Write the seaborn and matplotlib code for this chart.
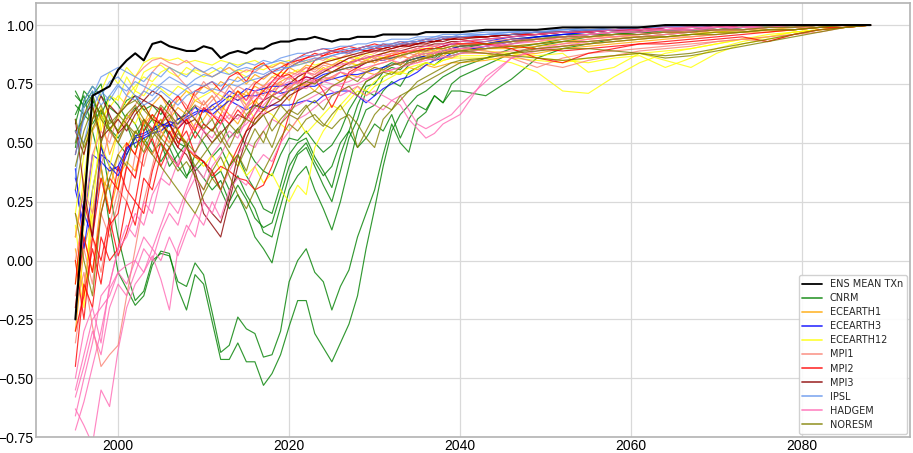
import matplotlib
matplotlib.use("Agg")
import numpy as np
import pandas as pd
import matplotlib.pyplot as plt
import seaborn as sns
from matplotlib.lines import Line2D

# ---------------- data ----------------
years = list(range(1995, 2041)) + list(range(2043, 2089, 3))

ENS_MEAN = [-0.25, 0.22, 0.70, 0.72, 0.74, 0.81, 0.85, 0.88, 0.85, 0.92, 0.93, 0.91, 0.90, 0.89, 0.89, 0.91,
            0.90, 0.86, 0.88, 0.89, 0.88, 0.90, 0.90, 0.92, 0.93, 0.93, 0.94, 0.94, 0.95, 0.94, 0.93,
            0.94, 0.94, 0.95, 0.95, 0.95, 0.96, 0.96, 0.96, 0.96, 0.96, 0.97, 0.97, 0.97, 0.97, 0.97,
            0.98, 0.98, 0.98, 0.99, 0.99, 0.99, 0.99, 1.00, 1.00, 1.00, 1.00, 1.00, 1.00, 1.00, 1.00, 1.00]

CNRM = [
    [0.62, 0.70, 0.55, 0.40, 0.15, -0.05, -0.12, -0.19, -0.15, -0.02, 0.04, 0.03, -0.12, -0.21, -0.06, -0.10,
     -0.26, -0.42, -0.42, -0.35, -0.43, -0.43, -0.53, -0.48, -0.40, -0.28, -0.17, -0.17, -0.31, -0.37, -0.43,
     -0.35, -0.27, -0.15, 0.05, 0.22, 0.40, 0.55, 0.62, 0.66, 0.70, 0.72, 0.75, 0.78, 0.80, 0.82,
     0.86, 0.90, 0.92, 0.94, 0.95, 0.96, 0.97, 0.97, 0.98, 0.98, 0.99, 0.99, 0.99, 1.00, 1.00, 1.00],
    [0.70, 0.66, 0.72, 0.50, 0.30, 0.10, -0.05, -0.17, -0.13, 0.00, 0.03, 0.02, -0.09, -0.11, -0.01, -0.06,
     -0.22, -0.39, -0.36, -0.24, -0.29, -0.31, -0.41, -0.40, -0.30, -0.09, 0.00, 0.05, -0.05, -0.09, -0.21,
     -0.11, -0.04, 0.10, 0.20, 0.30, 0.45, 0.58, 0.50, 0.46, 0.60, 0.63, 0.70, 0.67, 0.75, 0.78,
     0.83, 0.88, 0.91, 0.93, 0.95, 0.96, 0.97, 0.97, 0.98, 0.98, 0.99, 0.99, 0.99, 1.00, 1.00, 1.00],
    [0.55, 0.60, 0.68, 0.62, 0.55, 0.50, 0.45, 0.52, 0.58, 0.50, 0.42, 0.48, 0.40, 0.35, 0.45, 0.42,
     0.38, 0.30, 0.22, 0.28, 0.20, 0.10, 0.05, -0.01, 0.15, 0.30, 0.36, 0.40, 0.30, 0.22, 0.13,
     0.25, 0.40, 0.55, 0.64, 0.66, 0.72, 0.76, 0.74, 0.80, 0.82, 0.84, 0.83, 0.86, 0.87, 0.88,
     0.90, 0.92, 0.94, 0.95, 0.96, 0.97, 0.97, 0.98, 0.98, 0.99, 0.99, 0.99, 1.00, 1.00, 1.00, 1.00],
    [0.72, 0.65, 0.70, 0.75, 0.60, 0.55, 0.62, 0.58, 0.50, 0.55, 0.60, 0.52, 0.45, 0.50, 0.38, 0.42,
     0.35, 0.38, 0.30, 0.36, 0.28, 0.22, 0.12, 0.10, 0.23, 0.36, 0.45, 0.48, 0.40, 0.32, 0.25,
     0.38, 0.52, 0.60, 0.72, 0.70, 0.78, 0.80, 0.79, 0.83, 0.85, 0.86, 0.85, 0.88, 0.88, 0.89,
     0.91, 0.93, 0.94, 0.95, 0.96, 0.96, 0.97, 0.98, 0.98, 0.98, 0.99, 0.99, 0.99, 1.00, 1.00, 1.00],
    [0.58, 0.72, 0.68, 0.62, 0.70, 0.66, 0.60, 0.65, 0.55, 0.60, 0.52, 0.58, 0.50, 0.48, 0.55, 0.50,
     0.44, 0.48, 0.40, 0.45, 0.36, 0.30, 0.22, 0.20, 0.32, 0.45, 0.50, 0.52, 0.44, 0.38, 0.31,
     0.45, 0.55, 0.66, 0.74, 0.75, 0.80, 0.82, 0.81, 0.85, 0.86, 0.87, 0.86, 0.89, 0.89, 0.90,
     0.92, 0.93, 0.95, 0.95, 0.96, 0.97, 0.97, 0.98, 0.98, 0.99, 0.99, 0.99, 1.00, 1.00, 1.00, 1.00],
    [0.66, 0.62, 0.58, 0.64, 0.56, 0.52, 0.58, 0.48, 0.52, 0.46, 0.50, 0.40, 0.45, 0.36, 0.40, 0.35,
     0.30, 0.34, 0.25, 0.32, 0.26, 0.18, 0.14, 0.16, 0.28, 0.40, 0.46, 0.50, 0.42, 0.36, 0.40,
     0.50, 0.55, 0.48, 0.52, 0.58, 0.55, 0.62, 0.52, 0.60, 0.66, 0.64, 0.70, 0.67, 0.72, 0.72,
     0.70, 0.77, 0.86, 0.90, 0.92, 0.94, 0.95, 0.96, 0.97, 0.98, 0.98, 0.99, 0.99, 1.00, 1.00, 1.00],
    [0.48, 0.68, 0.74, 0.70, 0.65, 0.62, 0.68, 0.70, 0.64, 0.66, 0.62, 0.68, 0.60, 0.62, 0.66, 0.58,
     0.55, 0.60, 0.52, 0.56, 0.48, 0.42, 0.38, 0.36, 0.45, 0.52, 0.51, 0.55, 0.50, 0.46, 0.49,
     0.55, 0.64, 0.70, 0.76, 0.78, 0.82, 0.84, 0.83, 0.86, 0.87, 0.88, 0.87, 0.89, 0.90, 0.91,
     0.92, 0.94, 0.95, 0.96, 0.96, 0.97, 0.98, 0.98, 0.98, 0.99, 0.99, 0.99, 1.00, 1.00, 1.00, 1.00],
]

ECEARTH1 = [
    [-0.30, 0.05, 0.20, 0.35, 0.30, 0.45, 0.50, 0.45, 0.58, 0.62, 0.55, 0.60, 0.65, 0.62, 0.68, 0.66,
     0.70, 0.64, 0.68, 0.72, 0.70, 0.74, 0.72, 0.70, 0.75, 0.73, 0.76, 0.74, 0.77, 0.76, 0.78,
     0.76, 0.79, 0.78, 0.80, 0.79, 0.81, 0.80, 0.80, 0.82, 0.81, 0.83, 0.82, 0.83, 0.84, 0.84,
     0.85, 0.87, 0.88, 0.90, 0.91, 0.92, 0.93, 0.94, 0.95, 0.96, 0.97, 0.97, 0.98, 0.99, 0.99, 1.00],
    [0.20, 0.10, -0.05, 0.25, 0.40, 0.30, 0.48, 0.55, 0.50, 0.45, 0.52, 0.60, 0.55, 0.50, 0.58, 0.64,
     0.60, 0.66, 0.62, 0.58, 0.65, 0.68, 0.64, 0.70, 0.72, 0.68, 0.74, 0.75, 0.72, 0.76, 0.78,
     0.80, 0.78, 0.82, 0.81, 0.83, 0.84, 0.85, 0.83, 0.86, 0.87, 0.86, 0.88, 0.89, 0.88, 0.90,
     0.90, 0.91, 0.92, 0.93, 0.94, 0.95, 0.95, 0.96, 0.97, 0.97, 0.98, 0.98, 0.99, 0.99, 1.00, 1.00],
    [0.05, -0.15, 0.15, 0.40, 0.20, 0.35, 0.42, 0.38, 0.50, 0.56, 0.60, 0.54, 0.58, 0.62, 0.56, 0.60,
     0.66, 0.62, 0.70, 0.68, 0.72, 0.66, 0.74, 0.72, 0.76, 0.78, 0.75, 0.80, 0.79, 0.82, 0.80,
     0.82, 0.84, 0.83, 0.85, 0.84, 0.86, 0.85, 0.87, 0.86, 0.84, 0.86, 0.88, 0.87, 0.89, 0.90,
     0.90, 0.90, 0.91, 0.92, 0.93, 0.94, 0.95, 0.95, 0.96, 0.97, 0.97, 0.98, 0.98, 0.99, 1.00, 1.00],
    [0.10, 0.30, 0.55, 0.62, 0.45, 0.55, 0.60, 0.64, 0.58, 0.66, 0.70, 0.64, 0.68, 0.72, 0.70, 0.74,
     0.72, 0.76, 0.74, 0.78, 0.75, 0.79, 0.77, 0.80, 0.78, 0.82, 0.80, 0.83, 0.82, 0.84, 0.83,
     0.85, 0.84, 0.86, 0.85, 0.87, 0.86, 0.88, 0.87, 0.89, 0.88, 0.90, 0.89, 0.91, 0.90, 0.91,
     0.92, 0.93, 0.93, 0.94, 0.95, 0.95, 0.96, 0.97, 0.97, 0.98, 0.98, 0.99, 0.99, 1.00, 1.00, 1.00],
]

ECEARTH3 = [
    [0.39, 0.05, 0.30, 0.48, 0.40, 0.36, 0.45, 0.53, 0.54, 0.56, 0.58, 0.57, 0.60, 0.62, 0.65, 0.63,
     0.66, 0.68, 0.72, 0.70, 0.73, 0.72, 0.73, 0.74, 0.74, 0.75, 0.76, 0.78, 0.77, 0.79, 0.80,
     0.81, 0.82, 0.82, 0.84, 0.85, 0.85, 0.86, 0.87, 0.88, 0.89, 0.90, 0.90, 0.91, 0.92, 0.92,
     0.93, 0.95, 0.96, 0.97, 0.98, 0.98, 0.99, 0.99, 0.99, 1.00, 1.00, 1.00, 1.00, 1.00, 1.00, 1.00],
    [0.30, 0.15, 0.45, 0.42, 0.38, 0.40, 0.48, 0.50, 0.52, 0.54, 0.55, 0.58, 0.56, 0.60, 0.62, 0.64,
     0.62, 0.65, 0.68, 0.66, 0.64, 0.66, 0.65, 0.66, 0.66, 0.66, 0.67, 0.68, 0.67, 0.70, 0.71,
     0.72, 0.72, 0.70, 0.67, 0.70, 0.73, 0.75, 0.77, 0.78, 0.80, 0.83, 0.85, 0.86, 0.88, 0.89,
     0.91, 0.93, 0.95, 0.96, 0.97, 0.98, 0.98, 0.99, 0.99, 0.99, 1.00, 1.00, 1.00, 1.00, 1.00, 1.00],
    [0.35, 0.20, 0.10, 0.45, 0.42, 0.38, 0.47, 0.52, 0.53, 0.55, 0.57, 0.59, 0.58, 0.61, 0.63, 0.64,
     0.64, 0.67, 0.70, 0.68, 0.70, 0.70, 0.71, 0.72, 0.71, 0.72, 0.73, 0.74, 0.74, 0.76, 0.77,
     0.78, 0.79, 0.79, 0.80, 0.81, 0.82, 0.83, 0.84, 0.85, 0.86, 0.87, 0.88, 0.89, 0.90, 0.91,
     0.92, 0.94, 0.95, 0.96, 0.97, 0.98, 0.98, 0.99, 0.99, 1.00, 1.00, 1.00, 1.00, 1.00, 1.00, 1.00],
]

ECEARTH12 = [
    [0.10, 0.35, 0.60, 0.72, 0.80, 0.75, 0.82, 0.78, 0.84, 0.86, 0.86, 0.85, 0.86, 0.84, 0.85, 0.84,
     0.83, 0.85, 0.84, 0.83, 0.84, 0.85, 0.83, 0.82, 0.84, 0.85, 0.83, 0.84, 0.85, 0.86, 0.85,
     0.86, 0.87, 0.86, 0.88, 0.87, 0.88, 0.89, 0.88, 0.89, 0.90, 0.90, 0.91, 0.90, 0.91, 0.92,
     0.92, 0.91, 0.90, 0.91, 0.92, 0.93, 0.94, 0.95, 0.96, 0.97, 0.97, 0.98, 0.98, 0.99, 1.00, 1.00],
    [0.00, -0.20, 0.30, 0.50, 0.40, 0.55, 0.62, 0.58, 0.66, 0.60, 0.55, 0.50, 0.56, 0.48, 0.44, 0.40,
     0.45, 0.38, 0.46, 0.42, 0.36, 0.40, 0.33, 0.37, 0.30, 0.25, 0.32, 0.28, 0.48, 0.55, 0.60,
     0.66, 0.70, 0.74, 0.72, 0.76, 0.78, 0.80, 0.79, 0.82, 0.83, 0.84, 0.83, 0.85, 0.86, 0.86,
     0.86, 0.84, 0.80, 0.72, 0.71, 0.78, 0.84, 0.88, 0.90, 0.92, 0.94, 0.95, 0.97, 0.98, 0.99, 1.00],
    [0.20, 0.45, 0.65, 0.55, 0.70, 0.68, 0.78, 0.72, 0.80, 0.82, 0.83, 0.80, 0.78, 0.82, 0.80, 0.78,
     0.80, 0.82, 0.79, 0.81, 0.80, 0.82, 0.81, 0.83, 0.84, 0.82, 0.84, 0.85, 0.83, 0.84, 0.86,
     0.85, 0.84, 0.86, 0.85, 0.87, 0.86, 0.88, 0.87, 0.88, 0.89, 0.88, 0.89, 0.90, 0.89, 0.90,
     0.89, 0.88, 0.87, 0.88, 0.80, 0.82, 0.88, 0.85, 0.82, 0.88, 0.92, 0.94, 0.96, 0.98, 0.99, 1.00],
    [-0.10, 0.15, 0.40, 0.65, 0.55, 0.60, 0.70, 0.74, 0.78, 0.76, 0.80, 0.82, 0.80, 0.79, 0.81, 0.80,
     0.78, 0.80, 0.82, 0.80, 0.78, 0.76, 0.74, 0.78, 0.80, 0.79, 0.81, 0.80, 0.82, 0.81, 0.83,
     0.82, 0.84, 0.83, 0.85, 0.84, 0.86, 0.85, 0.87, 0.86, 0.88, 0.87, 0.88, 0.89, 0.88, 0.89,
     0.88, 0.86, 0.85, 0.84, 0.86, 0.87, 0.88, 0.89, 0.90, 0.92, 0.94, 0.96, 0.97, 0.98, 0.99, 1.00],
    [0.15, -0.15, 0.20, 0.60, 0.65, 0.70, 0.66, 0.72, 0.70, 0.75, 0.73, 0.70, 0.74, 0.72, 0.68, 0.70,
     0.72, 0.70, 0.68, 0.72, 0.66, 0.60, 0.64, 0.62, 0.58, 0.55, 0.60, 0.54, 0.58, 0.62, 0.66,
     0.64, 0.68, 0.72, 0.70, 0.74, 0.76, 0.78, 0.80, 0.79, 0.82, 0.84, 0.83, 0.85, 0.86, 0.87,
     0.87, 0.88, 0.86, 0.85, 0.84, 0.86, 0.87, 0.82, 0.86, 0.90, 0.93, 0.95, 0.97, 0.98, 0.99, 1.00],
]

MPI1 = [
    [-0.20, -0.05, -0.28, -0.45, -0.40, -0.36, -0.15, 0.05, 0.25, 0.40, 0.55, 0.50, 0.62, 0.58, 0.66, 0.64,
     0.68, 0.72, 0.70, 0.74, 0.72, 0.76, 0.74, 0.78, 0.77, 0.80, 0.79, 0.82, 0.80, 0.83, 0.82,
     0.84, 0.83, 0.85, 0.84, 0.86, 0.85, 0.87, 0.86, 0.88, 0.87, 0.89, 0.88, 0.90, 0.89, 0.90,
     0.89, 0.87, 0.84, 0.82, 0.85, 0.87, 0.89, 0.90, 0.91, 0.93, 0.94, 0.93, 0.96, 0.98, 0.99, 1.00],
    [0.00, 0.20, 0.45, 0.55, 0.50, 0.62, 0.70, 0.78, 0.82, 0.85, 0.86, 0.84, 0.83, 0.85, 0.82, 0.80,
     0.78, 0.80, 0.82, 0.79, 0.81, 0.80, 0.83, 0.82, 0.84, 0.83, 0.85, 0.84, 0.86, 0.85, 0.87,
     0.86, 0.88, 0.87, 0.89, 0.88, 0.90, 0.89, 0.90, 0.91, 0.90, 0.92, 0.91, 0.92, 0.93, 0.92,
     0.93, 0.94, 0.94, 0.95, 0.95, 0.96, 0.96, 0.97, 0.97, 0.98, 0.98, 0.99, 0.99, 0.99, 1.00, 1.00],
    [-0.35, -0.10, 0.10, -0.05, 0.15, 0.30, 0.25, 0.45, 0.40, 0.55, 0.65, 0.60, 0.70, 0.66, 0.60, 0.68,
     0.62, 0.58, 0.66, 0.70, 0.64, 0.72, 0.68, 0.74, 0.76, 0.72, 0.78, 0.80, 0.78, 0.81, 0.80,
     0.82, 0.81, 0.83, 0.85, 0.84, 0.86, 0.85, 0.87, 0.86, 0.88, 0.87, 0.89, 0.88, 0.90, 0.89,
     0.88, 0.86, 0.82, 0.86, 0.88, 0.89, 0.90, 0.91, 0.92, 0.93, 0.94, 0.95, 0.96, 0.97, 0.99, 1.00],
    [0.10, 0.30, 0.20, 0.40, 0.55, 0.50, 0.60, 0.66, 0.72, 0.80, 0.84, 0.82, 0.78, 0.74, 0.70, 0.76,
     0.72, 0.68, 0.74, 0.70, 0.66, 0.72, 0.70, 0.76, 0.74, 0.78, 0.80, 0.82, 0.81, 0.84, 0.83,
     0.84, 0.86, 0.85, 0.87, 0.86, 0.88, 0.87, 0.89, 0.88, 0.90, 0.89, 0.91, 0.90, 0.91, 0.92,
     0.92, 0.93, 0.94, 0.94, 0.95, 0.96, 0.96, 0.97, 0.97, 0.98, 0.98, 0.99, 0.99, 1.00, 1.00, 1.00],
    [-0.15, 0.05, -0.10, 0.20, 0.10, 0.25, 0.40, 0.35, 0.50, 0.45, 0.58, 0.64, 0.56, 0.62, 0.70, 0.66,
     0.70, 0.64, 0.60, 0.66, 0.62, 0.58, 0.64, 0.70, 0.68, 0.74, 0.72, 0.76, 0.75, 0.78, 0.77,
     0.80, 0.79, 0.81, 0.80, 0.82, 0.81, 0.83, 0.84, 0.83, 0.85, 0.86, 0.85, 0.87, 0.86, 0.88,
     0.88, 0.89, 0.90, 0.91, 0.92, 0.93, 0.94, 0.95, 0.95, 0.96, 0.97, 0.98, 0.98, 0.99, 1.00, 1.00],
]

MPI2 = [
    [-0.45, -0.10, -0.20, 0.10, 0.00, 0.05, 0.25, 0.15, 0.35, 0.30, 0.45, 0.55, 0.48, 0.60, 0.55, 0.65,
     0.62, 0.58, 0.66, 0.72, 0.68, 0.75, 0.78, 0.80, 0.82, 0.84, 0.85, 0.86, 0.87, 0.88, 0.89,
     0.88, 0.89, 0.90, 0.89, 0.90, 0.91, 0.90, 0.91, 0.92, 0.92, 0.93, 0.93, 0.94, 0.94, 0.95,
     0.95, 0.96, 0.96, 0.97, 0.97, 0.98, 0.98, 0.99, 0.99, 0.99, 1.00, 1.00, 1.00, 1.00, 1.00, 1.00],
    [-0.20, 0.10, -0.05, 0.20, 0.35, 0.30, 0.50, 0.45, 0.60, 0.55, 0.65, 0.58, 0.50, 0.55, 0.45, 0.42,
     0.38, 0.30, 0.40, 0.48, 0.55, 0.62, 0.68, 0.74, 0.78, 0.82, 0.84, 0.86, 0.88, 0.87, 0.89,
     0.90, 0.89, 0.90, 0.91, 0.90, 0.92, 0.91, 0.92, 0.93, 0.93, 0.94, 0.94, 0.95, 0.95, 0.95,
     0.95, 0.96, 0.97, 0.97, 0.98, 0.98, 0.98, 0.99, 0.99, 0.99, 1.00, 1.00, 1.00, 1.00, 1.00, 1.00],
    [-0.30, -0.15, 0.05, -0.10, 0.15, 0.20, 0.40, 0.35, 0.55, 0.62, 0.58, 0.66, 0.70, 0.64, 0.72, 0.74,
     0.76, 0.72, 0.78, 0.80, 0.76, 0.82, 0.84, 0.80, 0.78, 0.79, 0.76, 0.78, 0.77, 0.72, 0.65,
     0.72, 0.80, 0.82, 0.84, 0.85, 0.86, 0.87, 0.88, 0.89, 0.89, 0.90, 0.90, 0.91, 0.92, 0.92,
     0.92, 0.91, 0.90, 0.89, 0.90, 0.91, 0.92, 0.92, 0.93, 0.94, 0.95, 0.93, 0.96, 0.98, 0.99, 1.00],
    [-0.10, 0.25, 0.10, 0.35, 0.20, 0.40, 0.30, 0.25, 0.45, 0.52, 0.40, 0.48, 0.56, 0.60, 0.52, 0.58,
     0.55, 0.62, 0.58, 0.64, 0.60, 0.68, 0.72, 0.76, 0.80, 0.84, 0.86, 0.88, 0.89, 0.90, 0.89,
     0.90, 0.91, 0.90, 0.91, 0.92, 0.91, 0.92, 0.93, 0.92, 0.93, 0.94, 0.93, 0.94, 0.95, 0.95,
     0.95, 0.96, 0.96, 0.97, 0.97, 0.98, 0.98, 0.98, 0.99, 0.99, 0.99, 1.00, 1.00, 1.00, 1.00, 1.00],
    [0.00, -0.25, 0.10, 0.00, 0.18, 0.02, 0.12, 0.25, 0.20, 0.38, 0.50, 0.45, 0.40, 0.48, 0.44, 0.42,
     0.36, 0.40, 0.38, 0.35, 0.34, 0.30, 0.32, 0.40, 0.50, 0.62, 0.72, 0.80, 0.85, 0.87, 0.88,
     0.89, 0.88, 0.90, 0.89, 0.90, 0.90, 0.91, 0.92, 0.91, 0.92, 0.93, 0.93, 0.94, 0.94, 0.94,
     0.92, 0.90, 0.86, 0.84, 0.88, 0.90, 0.92, 0.93, 0.94, 0.95, 0.96, 0.97, 0.98, 0.99, 0.99, 1.00],
]

MPI3 = [
    [0.55, 0.45, 0.60, 0.70, 0.62, 0.54, 0.58, 0.64, 0.68, 0.66, 0.64, 0.58, 0.52, 0.50, 0.35, 0.20,
     0.15, 0.10, 0.25, 0.40, 0.52, 0.60, 0.64, 0.66, 0.68, 0.72, 0.74, 0.76, 0.78, 0.80, 0.82,
     0.84, 0.86, 0.87, 0.88, 0.89, 0.89, 0.90, 0.91, 0.91, 0.92, 0.92, 0.93, 0.93, 0.94, 0.94,
     0.95, 0.96, 0.97, 0.97, 0.98, 0.98, 0.99, 0.99, 0.99, 1.00, 1.00, 1.00, 1.00, 1.00, 1.00, 1.00],
    [0.45, 0.62, 0.66, 0.52, 0.56, 0.60, 0.55, 0.62, 0.66, 0.60, 0.58, 0.54, 0.48, 0.45, 0.38, 0.25,
     0.20, 0.16, 0.28, 0.45, 0.55, 0.58, 0.62, 0.64, 0.66, 0.70, 0.72, 0.74, 0.76, 0.78, 0.80,
     0.82, 0.84, 0.85, 0.86, 0.87, 0.88, 0.89, 0.89, 0.90, 0.91, 0.91, 0.92, 0.92, 0.93, 0.93,
     0.94, 0.95, 0.96, 0.97, 0.97, 0.98, 0.98, 0.99, 0.99, 0.99, 1.00, 1.00, 1.00, 1.00, 1.00, 1.00],
    [0.60, 0.30, 0.10, 0.50, 0.66, 0.62, 0.66, 0.70, 0.68, 0.72, 0.70, 0.66, 0.62, 0.58, 0.60, 0.55,
     0.50, 0.54, 0.58, 0.62, 0.60, 0.65, 0.68, 0.70, 0.72, 0.75, 0.78, 0.80, 0.82, 0.84, 0.85,
     0.86, 0.87, 0.88, 0.89, 0.89, 0.90, 0.91, 0.91, 0.92, 0.92, 0.93, 0.93, 0.94, 0.94, 0.95,
     0.95, 0.96, 0.97, 0.97, 0.98, 0.98, 0.99, 0.99, 0.99, 1.00, 1.00, 1.00, 1.00, 1.00, 1.00, 1.00],
]

IPSL = [
    [0.45, 0.60, 0.70, 0.78, 0.80, 0.82, 0.80, 0.78, 0.76, 0.80, 0.78, 0.82, 0.80, 0.78, 0.82, 0.80,
     0.82, 0.80, 0.84, 0.82, 0.84, 0.83, 0.85, 0.84, 0.86, 0.87, 0.88, 0.88, 0.89, 0.90, 0.90,
     0.91, 0.91, 0.92, 0.92, 0.93, 0.93, 0.94, 0.94, 0.94, 0.95, 0.95, 0.95, 0.96, 0.96, 0.96,
     0.97, 0.97, 0.98, 0.98, 0.99, 0.99, 0.99, 1.00, 1.00, 1.00, 1.00, 1.00, 1.00, 1.00, 1.00, 1.00],
    [0.55, 0.50, 0.65, 0.72, 0.68, 0.74, 0.72, 0.76, 0.74, 0.72, 0.75, 0.78, 0.76, 0.74, 0.77, 0.79,
     0.78, 0.80, 0.79, 0.81, 0.82, 0.81, 0.83, 0.84, 0.85, 0.84, 0.86, 0.87, 0.87, 0.88, 0.89,
     0.89, 0.90, 0.90, 0.91, 0.91, 0.92, 0.92, 0.93, 0.93, 0.94, 0.94, 0.95, 0.95, 0.95, 0.96,
     0.96, 0.97, 0.97, 0.98, 0.98, 0.99, 0.99, 0.99, 1.00, 1.00, 1.00, 1.00, 1.00, 1.00, 1.00, 1.00],
    [0.35, 0.65, 0.72, 0.66, 0.70, 0.75, 0.70, 0.68, 0.72, 0.70, 0.74, 0.72, 0.70, 0.73, 0.75, 0.74,
     0.76, 0.74, 0.77, 0.76, 0.78, 0.80, 0.79, 0.81, 0.82, 0.82, 0.84, 0.85, 0.86, 0.86, 0.87,
     0.88, 0.88, 0.89, 0.90, 0.90, 0.91, 0.91, 0.92, 0.92, 0.93, 0.93, 0.94, 0.94, 0.95, 0.95,
     0.96, 0.96, 0.97, 0.97, 0.98, 0.98, 0.99, 0.99, 0.99, 1.00, 1.00, 1.00, 1.00, 1.00, 1.00, 1.00],
    [0.50, 0.68, 0.74, 0.70, 0.76, 0.78, 0.74, 0.70, 0.66, 0.68, 0.72, 0.69, 0.66, 0.70, 0.72, 0.71,
     0.73, 0.72, 0.75, 0.74, 0.76, 0.77, 0.78, 0.80, 0.81, 0.82, 0.83, 0.84, 0.85, 0.86, 0.87,
     0.88, 0.89, 0.89, 0.90, 0.91, 0.91, 0.92, 0.92, 0.93, 0.93, 0.94, 0.94, 0.95, 0.95, 0.95,
     0.96, 0.97, 0.97, 0.98, 0.98, 0.98, 0.99, 0.99, 1.00, 1.00, 1.00, 1.00, 1.00, 1.00, 1.00, 1.00],
]

HADGEM = [
    [-0.55, -0.40, -0.25, -0.20, -0.15, -0.05, -0.02, 0.00, 0.10, 0.05, 0.15, 0.25, 0.20, 0.30, 0.40, 0.35,
     0.45, 0.50, 0.55, 0.52, 0.60, 0.65, 0.62, 0.68, 0.70, 0.72, 0.74, 0.73, 0.76, 0.77, 0.78,
     0.80, 0.79, 0.81, 0.82, 0.83, 0.84, 0.85, 0.84, 0.86, 0.87, 0.88, 0.88, 0.89, 0.90, 0.90,
     0.91, 0.92, 0.94, 0.95, 0.96, 0.97, 0.97, 0.98, 0.98, 0.99, 0.99, 0.99, 1.00, 1.00, 1.00, 1.00],
    [-0.72, -0.60, -0.45, -0.30, -0.12, -0.05, -0.10, 0.00, -0.05, 0.02, -0.08, -0.21, 0.05, 0.15, 0.10, 0.25,
     0.20, 0.30, 0.38, 0.45, 0.50, 0.48, 0.55, 0.60, 0.58, 0.64, 0.66, 0.68, 0.70, 0.72, 0.74,
     0.75, 0.76, 0.78, 0.77, 0.79, 0.80, 0.81, 0.82, 0.83, 0.84, 0.85, 0.86, 0.86, 0.87, 0.88,
     0.90, 0.92, 0.93, 0.95, 0.96, 0.97, 0.97, 0.98, 0.98, 0.99, 0.99, 1.00, 1.00, 1.00, 1.00, 1.00],
    [-0.63, -0.70, -0.78, -0.55, -0.62, -0.38, -0.20, -0.10, -0.05, 0.05, 0.00, 0.10, 0.02, 0.12, 0.20, 0.15,
     0.25, 0.18, 0.30, 0.35, 0.32, 0.40, 0.45, 0.42, 0.50, 0.55, 0.60, 0.62, 0.65, 0.68, 0.70,
     0.72, 0.74, 0.75, 0.77, 0.78, 0.80, 0.81, 0.82, 0.84, 0.85, 0.86, 0.87, 0.88, 0.89, 0.90,
     0.91, 0.93, 0.94, 0.95, 0.96, 0.97, 0.98, 0.98, 0.99, 0.99, 0.99, 1.00, 1.00, 1.00, 1.00, 1.00],
    [-0.66, -0.50, -0.35, -0.15, -0.10, 0.05, 0.10, 0.20, 0.15, 0.28, 0.35, 0.32, 0.42, 0.48, 0.45, 0.55,
     0.52, 0.58, 0.62, 0.60, 0.66, 0.70, 0.68, 0.72, 0.74, 0.76, 0.75, 0.77, 0.76, 0.74, 0.72,
     0.70, 0.72, 0.70, 0.68, 0.66, 0.64, 0.68, 0.66, 0.60, 0.56, 0.52, 0.54, 0.58, 0.60, 0.62,
     0.78, 0.86, 0.89, 0.91, 0.93, 0.94, 0.95, 0.96, 0.97, 0.98, 0.98, 0.99, 0.99, 1.00, 1.00, 1.00],
    [-0.58, -0.45, -0.30, -0.40, -0.20, -0.10, -0.15, -0.05, 0.05, 0.00, 0.12, 0.20, 0.15, 0.28, 0.35, 0.30,
     0.40, 0.45, 0.52, 0.55, 0.58, 0.62, 0.66, 0.70, 0.72, 0.74, 0.76, 0.75, 0.77, 0.76, 0.75,
     0.74, 0.72, 0.74, 0.70, 0.72, 0.70, 0.68, 0.70, 0.64, 0.58, 0.56, 0.58, 0.60, 0.62, 0.66,
     0.76, 0.86, 0.90, 0.92, 0.94, 0.95, 0.96, 0.97, 0.98, 0.98, 0.99, 0.99, 1.00, 1.00, 1.00, 1.00],
    [-0.50, -0.30, -0.20, -0.35, -0.10, 0.05, 0.15, 0.10, 0.25, 0.20, 0.35, 0.45, 0.40, 0.50, 0.58, 0.55,
     0.62, 0.60, 0.66, 0.70, 0.68, 0.72, 0.74, 0.76, 0.78, 0.77, 0.79, 0.80, 0.79, 0.81, 0.82,
     0.83, 0.84, 0.85, 0.86, 0.87, 0.87, 0.88, 0.89, 0.89, 0.90, 0.91, 0.91, 0.92, 0.92, 0.93,
     0.94, 0.95, 0.96, 0.97, 0.97, 0.98, 0.98, 0.99, 0.99, 0.99, 1.00, 1.00, 1.00, 1.00, 1.00, 1.00],
]

NORESM = [
    [0.40, 0.55, 0.65, 0.50, 0.60, 0.55, 0.62, 0.66, 0.60, 0.52, 0.58, 0.62, 0.55, 0.48, 0.40, 0.45,
     0.50, 0.55, 0.48, 0.56, 0.60, 0.58, 0.62, 0.55, 0.60, 0.64, 0.62, 0.66, 0.60, 0.57, 0.62,
     0.66, 0.60, 0.48, 0.55, 0.62, 0.66, 0.64, 0.70, 0.72, 0.76, 0.78, 0.80, 0.82, 0.84, 0.85,
     0.86, 0.88, 0.89, 0.90, 0.90, 0.89, 0.88, 0.87, 0.88, 0.90, 0.92, 0.94, 0.96, 0.98, 0.99, 1.00],
    [0.20, 0.00, -0.15, 0.20, 0.35, 0.45, 0.40, 0.55, 0.50, 0.45, 0.40, 0.35, 0.30, 0.25, 0.20, 0.28,
     0.35, 0.30, 0.40, 0.45, 0.38, 0.50, 0.55, 0.48, 0.58, 0.62, 0.60, 0.65, 0.68, 0.64, 0.70,
     0.72, 0.74, 0.70, 0.76, 0.78, 0.80, 0.79, 0.82, 0.84, 0.85, 0.86, 0.87, 0.88, 0.89, 0.89,
     0.88, 0.87, 0.86, 0.85, 0.86, 0.87, 0.88, 0.86, 0.87, 0.89, 0.91, 0.93, 0.95, 0.97, 0.99, 1.00],
    [0.50, 0.62, 0.70, 0.60, 0.55, 0.62, 0.66, 0.68, 0.64, 0.60, 0.66, 0.62, 0.58, 0.64, 0.60, 0.56,
     0.60, 0.52, 0.46, 0.40, 0.48, 0.56, 0.50, 0.60, 0.66, 0.62, 0.68, 0.70, 0.72, 0.70, 0.74,
     0.76, 0.78, 0.76, 0.80, 0.82, 0.81, 0.83, 0.84, 0.85, 0.86, 0.86, 0.87, 0.88, 0.88, 0.89,
     0.90, 0.91, 0.92, 0.93, 0.93, 0.94, 0.95, 0.95, 0.96, 0.97, 0.97, 0.98, 0.98, 0.99, 1.00, 1.00],
    [0.30, 0.50, 0.60, 0.66, 0.56, 0.50, 0.58, 0.52, 0.46, 0.55, 0.50, 0.44, 0.38, 0.42, 0.36, 0.30,
     0.38, 0.44, 0.36, 0.28, 0.22, 0.30, 0.38, 0.45, 0.52, 0.58, 0.55, 0.60, 0.62, 0.58, 0.56,
     0.60, 0.62, 0.58, 0.52, 0.48, 0.60, 0.64, 0.68, 0.72, 0.74, 0.76, 0.78, 0.80, 0.82, 0.84,
     0.86, 0.88, 0.90, 0.91, 0.92, 0.93, 0.94, 0.95, 0.96, 0.96, 0.97, 0.98, 0.98, 0.99, 1.00, 1.00],
    [0.60, 0.48, 0.56, 0.64, 0.58, 0.62, 0.58, 0.54, 0.60, 0.56, 0.52, 0.48, 0.54, 0.50, 0.46, 0.52,
     0.56, 0.50, 0.58, 0.54, 0.62, 0.66, 0.64, 0.70, 0.68, 0.72, 0.74, 0.76, 0.75, 0.78, 0.80,
     0.81, 0.82, 0.83, 0.84, 0.85, 0.86, 0.86, 0.87, 0.88, 0.89, 0.89, 0.90, 0.90, 0.91, 0.91,
     0.92, 0.93, 0.94, 0.95, 0.95, 0.96, 0.96, 0.97, 0.97, 0.98, 0.98, 0.99, 0.99, 1.00, 1.00, 1.00],
]

MODELS = ["CNRM", "ECEARTH1", "ECEARTH3", "ECEARTH12", "MPI1", "MPI2", "MPI3", "IPSL", "HADGEM", "NORESM"]
MEMBERS = {"CNRM": CNRM, "ECEARTH1": ECEARTH1, "ECEARTH3": ECEARTH3, "ECEARTH12": ECEARTH12,
           "MPI1": MPI1, "MPI2": MPI2, "MPI3": MPI3, "IPSL": IPSL, "HADGEM": HADGEM, "NORESM": NORESM}
COLORS = {"CNRM": "green", "ECEARTH1": "orange", "ECEARTH3": "blue", "ECEARTH12": "yellow",
          "MPI1": "salmon", "MPI2": "red", "MPI3": "darkred", "IPSL": "cornflowerblue",
          "HADGEM": "hotpink", "NORESM": "olive"}
MEAN_LABEL = "ENS MEAN TXn"

# ---------------- build long table ----------------
rows = []
for m in MODELS:
    for i, s in enumerate(MEMBERS[m]):
        assert len(s) == len(years), (m, i, len(s))
        for yr, v in zip(years, s):
            rows.append((yr, v, m, f"{m}_{i}"))
df = pd.DataFrame(rows, columns=["year", "value", "model", "member"])
assert len(ENS_MEAN) == len(years)
df_mean = pd.DataFrame({"year": years, "value": ENS_MEAN})

# ---------------- plot ----------------
sns.set_style("whitegrid", {"grid.color": "#d9d9d9", "axes.edgecolor": "#b3b3b3"})
plt.rcParams["font.family"] = ["Liberation Sans", "DejaVu Sans"]

fig, ax = plt.subplots(figsize=(9.13, 4.53), dpi=100)
fig.subplots_adjust(left=0.039, right=0.997, top=0.993, bottom=0.035)

sns.lineplot(data=df, x="year", y="value", hue="model", units="member", estimator=None,
             hue_order=MODELS, palette=COLORS, lw=0.85, alpha=0.8, legend=False, ax=ax)
sns.lineplot(data=df_mean, x="year", y="value", color="black", lw=1.5, ax=ax, zorder=5)

ax.set_ylim(-0.75, 1.093)
ax.set_xticks([2000, 2020, 2040, 2060, 2080])
ax.set_yticks([-0.75, -0.5, -0.25, 0.0, 0.25, 0.5, 0.75, 1.0])
ax.set_xlabel("")
ax.set_ylabel("")
ax.tick_params(labelsize=10, pad=1.5, length=0, colors="black")
ax.grid(True, color="#d9d9d9", lw=0.9)
for sp in ax.spines.values():
    sp.set_color("#b3b3b3")
    sp.set_linewidth(1.2)

handles = [Line2D([0], [0], color="black", lw=1.3, label=MEAN_LABEL)]
handles += [Line2D([0], [0], color=COLORS[m], lw=1.3, alpha=0.75, label=m) for m in MODELS]
leg = ax.legend(handles=handles, loc="lower right", prop={"family": "DejaVu Sans", "size": 7},
                labelspacing=0.42, borderaxespad=0.35, framealpha=0.9, edgecolor="#cccccc",
                fancybox=True)

fig.savefig("out.png", dpi=100)
